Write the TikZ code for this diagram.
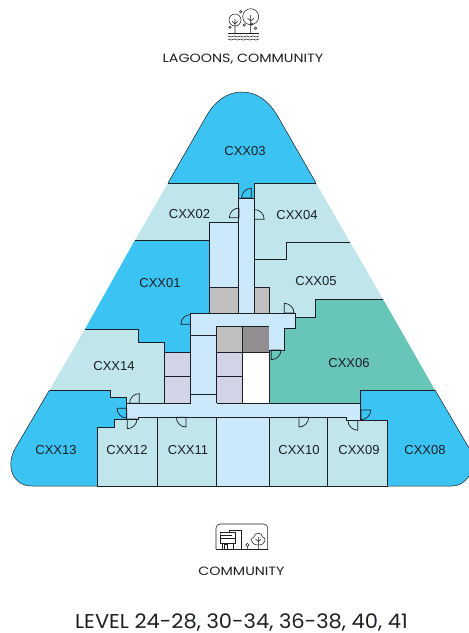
\documentclass[tikz,border=0pt]{standalone}
\usepackage{fontspec}
\setmainfont{Liberation Sans}
\newfontfamily\captionfont[FakeStretch=1.19]{Poppins}
\newfontfamily\levelfont[FakeStretch=1.05]{Poppins}
\definecolor{skyroom}{HTML}{3BC4F3}
\definecolor{paleroom}{HTML}{C0E6EC}
\definecolor{tealroom}{HTML}{68C6B8}
\definecolor{corridor}{HTML}{CBE9FB}
\definecolor{coregray}{HTML}{BFBFBF}
\definecolor{coredark}{HTML}{918E91}
\definecolor{corelilac}{HTML}{D3D3E8}
\definecolor{wallcol}{HTML}{1C1F24}
\tikzset{
  roomlabel/.style={font=\fontsize{13}{13}\selectfont,text=wallcol,inner sep=0pt},
  wall/.style={draw=wallcol,line width=1pt,line join=miter},
  thinwall/.style={draw=wallcol,line width=0.5pt},
  doorline/.style={draw=wallcol,line width=0.7pt},
  iconline/.style={draw=wallcol,line width=0.55pt},
  caption/.style={font=\captionfont\fontsize{12}{12}\selectfont,text=wallcol,inner sep=0pt}
}
\begin{document}
\begin{tikzpicture}[x=1pt,y=-1pt]
    \useasboundingbox (0,0) rectangle (469,633);
    % rooms
    \fill[skyroom] (168,183) -- (207,115) .. controls (216,100) and (228,92) .. (242,92) .. controls (256,92) and (268,100) .. (277,115) -- (316,183) -- (254.5,183) -- (254.5,198) -- (238.5,198) -- (238.5,183) -- cycle;
    \fill[paleroom] (168,183) -- (238.5,183) -- (238.5,222) -- (209,222) -- (209,240) -- (135,240) -- cycle;
    \fill[paleroom] (254.5,183) -- (316,183) -- (350,242) -- (286,242) -- (286,259) -- (254.5,259) -- cycle;
    \fill[paleroom] (254.5,259) -- (286,259) -- (286,242) -- (350,242) -- (383,299) -- (315,299) -- (315,317) -- (295,317) -- (295,313) -- (269,313) -- (269,287) -- (254.5,287) -- cycle;
    \fill[tealroom] (383,299) -- (435,390) -- (361,390) -- (361,403.3) -- (269,403.3) -- (269,350) -- (284,350) -- (284,328) -- (295,328) -- (295,317) -- (315,317) -- (315,299) -- cycle;
    \fill[skyroom] (135,240) -- (209,240) -- (209,313) -- (190.5,313) -- (190.5,352.3) -- (164.3,352.3) -- (164.3,342) -- (138.5,342) -- (138.5,329) -- (85,329) -- cycle;
    \fill[paleroom] (85,329) -- (138.5,329) -- (138.5,342) -- (164.3,342) -- (164.3,403.3) -- (126.7,403.3) -- (126.7,397.3) -- (110,397.3) -- (110,390) -- (49.5,390) -- cycle;
    \fill[skyroom] (49.5,390) -- (110,390) -- (110,397.3) -- (126.7,397.3) -- (126.7,419) -- (114.3,419) -- (114.3,427.7) -- (97.3,427.7) -- (97.3,486) -- (32,486) .. controls (12,486) and (5,465) .. (16,447) -- cycle;
    \fill[skyroom] (361,390) -- (435,390) -- (469,448) -- (469,476) .. controls (464,483) and (459,486) .. (452,486) -- (387.5,486) -- (387.5,420.5) -- (361,420.5) -- cycle;
    \fill[paleroom] (97.3,486) -- (97.3,427.7) -- (114.3,427.7) -- (114.3,419) -- (138,419) -- (138,417.3) -- (157.3,417.3) -- (157.3,486) -- cycle;
    \fill[paleroom] (157.3,417.3) rectangle (216.7,486);
    \fill[paleroom] (269.3,417.3) rectangle (327.7,486);
    \fill[paleroom] (327.7,486) -- (327.7,417.3) -- (346.7,417.3) -- (346.7,420.5) -- (387.5,420.5) -- (387.5,486) -- cycle;
    % corridors and core
    \fill[corridor] (238.5,198) rectangle (254.5,313);
    \fill[corridor] (209,222) rectangle (238.5,287);
    \fill[corridor] (190.5,313) -- (295,313) -- (295,328) -- (284,328) -- (284,350) -- (269,350) -- (269,326.7) -- (216.7,326.7) -- (216.7,403.3) -- (360.7,403.3) -- (360.7,420.5) -- (346.7,420.5) -- (346.7,417.3) -- (138,417.3) -- (138,419) -- (126.7,419) -- (126.7,403.3) -- (190.5,403.3) -- cycle;
    \fill[corridor] (216.7,417.3) rectangle (269.3,486);
    \fill[coregray] (209,287) rectangle (238.5,313);
    \fill[coregray] (254.5,287) rectangle (269,313);
    \fill[coregray] (216.7,326.7) rectangle (242.7,352.7);
    \fill[coredark] (242.7,326.7) rectangle (269,352.7);
    \fill[white] (242.7,352.7) rectangle (269,403.3);
    \fill[corelilac] (216.7,352.7) rectangle (242.7,403.3);
    \fill[corelilac] (164.3,352.3) rectangle (190.5,403.3);
    % walls
    \draw[thinwall] (168,183) -- (207,115) .. controls (216,100) and (228,92) .. (242,92) .. controls (256,92) and (268,100) .. (277,115) -- (316,183);
    \draw[thinwall] (49.5,390) -- (16,447) .. controls (5,465) and (12,486) .. (32,486) -- (97.3,486);
    \draw[thinwall] (435,390) -- (469,448);
    \draw[thinwall] (469,476) .. controls (464,483) and (459,486) .. (452,486) -- (387.5,486);
    \draw[thinwall] (97.3,486) -- (387.5,486);
    \draw[wall] (168,183) -- (238.5,183) -- (238.5,313);
    \draw[wall] (316,183) -- (254.5,183) -- (254.5,313);
    \draw[wall] (238.5,198) -- (254.5,198);
    \draw[wall] (238.5,222) -- (209,222) -- (209,313);
    \draw[wall] (135,240) -- (209,240);
    \draw[wall] (209,287) -- (238.5,287);
    \draw[wall] (254.5,287) -- (269,287) -- (269,313);
    \draw[wall] (254.5,259) -- (286,259) -- (286,242) -- (350,242);
    \draw[wall] (383,299) -- (315,299) -- (315,317) -- (295,317);
    \draw[wall] (190.5,403.3) -- (190.5,313) -- (295,313) -- (295,328) -- (284,328) -- (284,350) -- (269,350) -- (269,403.3);
    \draw[wall] (269,326.7) -- (216.7,326.7) -- (216.7,403.3);
    \draw[wall] (242.7,326.7) -- (242.7,403.3);
    \draw[wall] (216.7,352.7) -- (269,352.7);
    \draw[wall] (216.7,376.7) -- (242.7,376.7);
    \draw[wall] (190.5,335) -- (216.7,335);
    \draw[wall] (190.5,394) -- (216.7,394);
    \draw[wall] (85,329) -- (138.5,329) -- (138.5,342) -- (164.3,342) -- (164.3,403.3);
    \draw[wall] (164.3,352.3) -- (190.5,352.3);
    \draw[wall] (164.3,376.7) -- (190.5,376.7);
    \draw[wall] (49.5,390) -- (110,390) -- (110,397.3) -- (126.7,397.3) -- (126.7,419) -- (114.3,419) -- (114.3,427.7) -- (97.3,427.7) -- (97.3,486);
    \draw[wall] (126.7,403.3) -- (190.5,403.3);
    \draw[wall] (216.7,403.3) -- (360.7,403.3);
    \draw[wall] (435,390) -- (360.7,390) -- (360.7,420.5) -- (346.7,420.5) -- (346.7,417.3) -- (138,417.3) -- (138,419) -- (126.7,419);
    \draw[wall] (360.7,420.5) -- (387.5,420.5) -- (387.5,486);
    \foreach \wx in {157.3,216.7,269.3,327.7}
      \draw[wall] (\wx,417.3) -- (\wx,486);
    % doors
    \foreach \hx/\hy/\sa/\da in {251.3/198/270/-90,239/217.7/270/-90,254.5/219.3/270/90,284.3/313/270/90,190.5/324.3/180/90,139.3/403.3/180/90,126.7/408.3/180/-90,127.3/419/90/-90,186/417.3/180/-90,299/417.3/90/-90,357.7/420.5/180/-90,361/410/0/90,271.3/350/0/90}
      \draw[doorline] (\hx,\hy) -- ++(\sa:9.7) arc[start angle=\sa,delta angle=\da,radius=9.7] -- cycle;
    % room labels
    \node[roomlabel] (cxx03) at (245,150.7) {CXX03};
    \node[roomlabel] (cxx02) at (189.5,213.7) {CXX02};
    \node[roomlabel] (cxx04) at (297,214.7) {CXX04};
    \node[roomlabel] (cxx01) at (160,283) {CXX01};
    \node[roomlabel] (cxx05) at (316,280.7) {CXX05};
    \node[roomlabel] (cxx14) at (114,365.7) {CXX14};
    \node[roomlabel] (cxx06) at (349,362.7) {CXX06};
    \node[roomlabel] (cxx13) at (56,450.5) {CXX13};
    \node[roomlabel] (cxx12) at (127,450) {CXX12};
    \node[roomlabel] (cxx11) at (188,450) {CXX11};
    \node[roomlabel] (cxx10) at (299,450) {CXX10};
    \node[roomlabel] (cxx09) at (359,450) {CXX09};
    \node[roomlabel] (cxx08) at (425,450) {CXX08};
    % captions
    \node[caption] (lagoons) at (243,59.5) {LAGOONS, COMMUNITY};
    \node[caption] (community) at (241.5,571.5) {COMMUNITY};
    \node[caption,font=\levelfont\fontsize{20}{20}\selectfont] (level) at (241.5,622.5) {LEVEL 24-28, 30-34, 36-38, 40, 41};
    % top icon
    \draw[iconline] (235,20) circle[radius=6];
    \draw[iconline] (250.7,16.7) circle[radius=8];
    \draw[iconline] (235,19) -- (235,33) (232,21) -- (235,24) -- (238,21);
    \draw[iconline] (250.7,15) -- (250.7,33) (247.5,18) -- (250.7,21) -- (254,18);
    \foreach \lx/\ly in {240.7/11.7,230/27.3,244.3/25,251.7/24,255.5/28.3}
      \draw[iconline] (\lx,\ly) circle[radius=1.2];
    \draw[iconline] (228,33) -- (259,33);
    \foreach \wy in {36,39}
      \draw[iconline] (228,\wy) \foreach \wn in {0,1,2,3,4} { .. controls +(1.5,1.4) and +(-1.5,1.4) .. ++(6.2,0) };
    % bottom icon
    \draw[iconline,rounded corners=4pt] (216,549.3) -- (216,524) -- (267.7,524) -- (267.7,549.3);
    \draw[iconline] (216,549.3) -- (267.7,549.3);
    \draw[iconline] (229.3,532.5) -- (229.3,530) -- (241.7,530) -- (241.7,549.3);
    \draw[iconline] (220,532.7) -- (235,532.7) -- (235,538) (220,535.5) -- (232,535.5);
    \draw[iconline] (220,532.7) -- (220,538) -- (235,538) -- (235,543) -- (220,543) -- cycle;
    \draw[iconline] (222,543) -- (222,549.3) (224.3,549.3) -- (224.3,544) -- (227.7,544) -- (227.7,549.3) (233,543) -- (233,549.3);
    \draw[iconline] (247.3,545) circle[radius=1.6] (247.3,546.6) -- (247.3,549.3);
    \draw[iconline] (258.3,545) .. controls (250,545) and (250,537) .. (254,537) .. controls (254,532) and (262.5,532) .. (262.5,537) .. controls (266.5,537) and (266.5,545) .. (258.3,545) -- cycle;
    \draw[iconline] (258.3,537) -- (258.3,549.3) (255.5,539) -- (258.3,541.5) -- (261,539);
\end{tikzpicture}
\end{document}
